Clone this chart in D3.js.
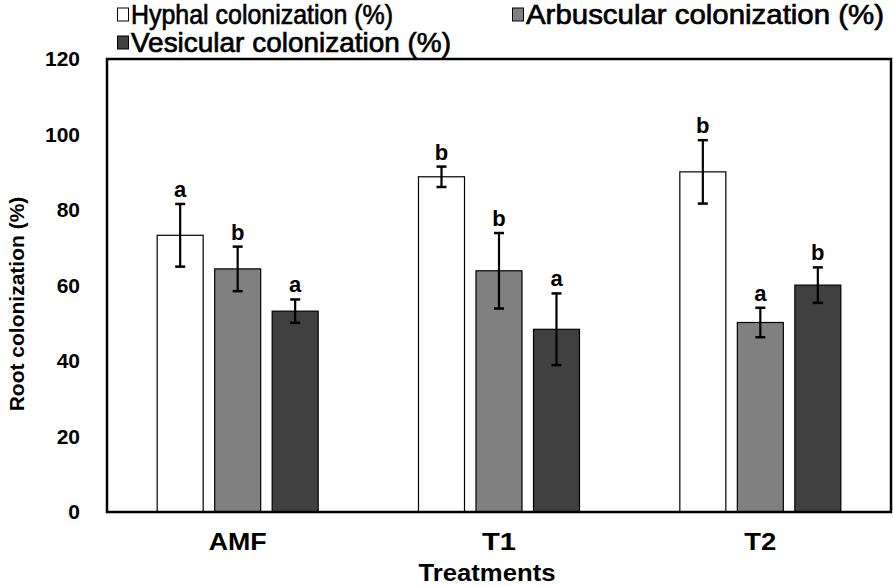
<!DOCTYPE html>
<html><head><meta charset="utf-8">
<script src="https://cdn.jsdelivr.net/npm/d3@7"></script>
<style>body{margin:0;background:#fff}svg{display:block}</style>
</head><body>
<script>
const categories = ["AMF", "T1", "T2"];
const seriesNames = ["Hyphal colonization (%)", "Arbuscular colonization (%)", "Vesicular colonization (%)"];
const hyphal = [73.3, 88.8, 90.1];
const arbuscular = [64.4, 63.9, 50.2];
const vesicular = [53.2, 48.4, 60.1];
const hyphalErr = [8.3, 2.7, 8.4];
const arbuscularErr = [5.9, 10.0, 3.9];
const vesicularErr = [3.1, 9.5, 4.7];
const hyphalLetters = ["a", "b", "b"];
const arbuscularLetters = ["b", "b", "a"];
const vesicularLetters = ["a", "a", "b"];
const yTicks = [0, 20, 40, 60, 80, 100, 120];
const colors = ["#ffffff", "#808080", "#404040"];

const W = 893, H = 586;
const margin = {left: 107, right: 2, top: 59, bottom: 74};
const svg = d3.select("body").append("svg").attr("width", W).attr("height", H);
const FONT = "Liberation Sans, Arial, sans-serif";

const x0 = d3.scaleBand().domain(categories).range([margin.left, W - margin.right]).padding(0);
const bw = x0.bandwidth();
const x1 = d3.scaleBand().domain([0, 1, 2]).range([bw / 2 - 86.25, bw / 2 + 86.25]).paddingInner(0.2).paddingOuter(0.1);
const y = d3.scaleLinear().domain([0, 120]).range([H - margin.bottom, margin.top]);

const values = [hyphal, arbuscular, vesicular];
const errs = [hyphalErr, arbuscularErr, vesicularErr];
const letters = [hyphalLetters, arbuscularLetters, vesicularLetters];

const data = [];
categories.forEach((c, i) => {
  for (let s = 0; s < 3; s++) data.push({c, s, v: values[s][i], e: errs[s][i], l: letters[s][i]});
});

// y axis labels
const yAxis = d3.axisLeft(y).tickValues(yTicks).tickSize(0).tickPadding(27);
const yg = svg.append("g").attr("transform", `translate(${margin.left},0)`).call(yAxis);
yg.select(".domain").remove();
yg.selectAll("text").attr("font-family", FONT).attr("font-weight", "bold").attr("font-size", 21).attr("fill", "#000");

// bars
const g = svg.append("g");
g.selectAll("rect.bar").data(data).join("rect").attr("class", "bar")
  .attr("x", d => x0(d.c) + x1(d.s)).attr("width", x1.bandwidth())
  .attr("y", d => y(d.v)).attr("height", d => y(0) - y(d.v))
  .attr("fill", d => colors[d.s]).attr("stroke", "#000").attr("stroke-width", 1.2);

// error bars
const cx = d => x0(d.c) + x1(d.s) + x1.bandwidth() / 2;
g.selectAll("line.eb").data(data).join("line").attr("class", "eb")
  .attr("x1", cx).attr("x2", cx).attr("y1", d => y(d.v + d.e)).attr("y2", d => y(d.v - d.e))
  .attr("stroke", "#000").attr("stroke-width", 2.2);
["top", "bot"].forEach(k => {
  g.selectAll("line.cap" + k).data(data).join("line").attr("class", "cap" + k)
    .attr("x1", d => cx(d) - 5).attr("x2", d => cx(d) + 5)
    .attr("y1", d => y(k === "top" ? d.v + d.e : d.v - d.e)).attr("y2", d => y(k === "top" ? d.v + d.e : d.v - d.e))
    .attr("stroke", "#000").attr("stroke-width", 2.5);
});
// letters
g.selectAll("text.lt").data(data).join("text").attr("class", "lt")
  .attr("x", cx).attr("y", d => y(d.v + d.e) - 7).attr("text-anchor", "middle")
  .attr("font-family", FONT).attr("font-weight", "bold").attr("font-size", 22)
  .text(d => d.l);

// frame
svg.append("rect").attr("x", margin.left).attr("y", margin.top)
  .attr("width", W - margin.right - margin.left).attr("height", y(0) - margin.top)
  .attr("fill", "none").attr("stroke", "#000").attr("stroke-width", 2.5);

// x labels
const xLabelLen = [58, 34, 32];
svg.append("g").selectAll("text").data(categories).join("text")
  .attr("x", d => x0(d) + bw / 2).attr("y", 550).attr("text-anchor", "middle")
  .attr("font-family", FONT).attr("font-weight", "bold").attr("font-size", 24)
  .attr("textLength", (d, i) => xLabelLen[i]).attr("lengthAdjust", "spacingAndGlyphs")
  .text(d => d);

svg.append("text").attr("x", 487).attr("y", 581).attr("text-anchor", "middle")
  .attr("font-family", FONT).attr("font-weight", "bold").attr("font-size", 23)
  .attr("textLength", 137).attr("lengthAdjust", "spacingAndGlyphs")
  .text("Treatments");

svg.append("text").attr("transform", "translate(24,304) rotate(-90)").attr("text-anchor", "middle")
  .attr("font-family", FONT).attr("font-weight", "bold").attr("font-size", 21)
  .text("Root colonization (%)");

// legend
const legendPos = [{x: 117, y: 24, len: 262}, {x: 512, y: 24, len: 358}, {x: 117, y: 52, len: 320}];
const lg = svg.append("g").selectAll("g").data(seriesNames).join("g")
  .attr("transform", (d, i) => `translate(${legendPos[i].x},${legendPos[i].y})`);
lg.append("rect").attr("x", 0.5).attr("y", -16).attr("width", 11).attr("height", 13)
  .attr("fill", (d, i) => colors[i]).attr("stroke", "#000").attr("stroke-width", 1);
lg.append("text").attr("x", 14).attr("y", 0)
  .attr("font-family", FONT).attr("font-size", 28)
  .attr("stroke", "#000").attr("stroke-width", 0.7)
  .attr("textLength", (d, i) => legendPos[i].len).attr("lengthAdjust", "spacingAndGlyphs")
  .text(d => d);
</script>
</body></html>
